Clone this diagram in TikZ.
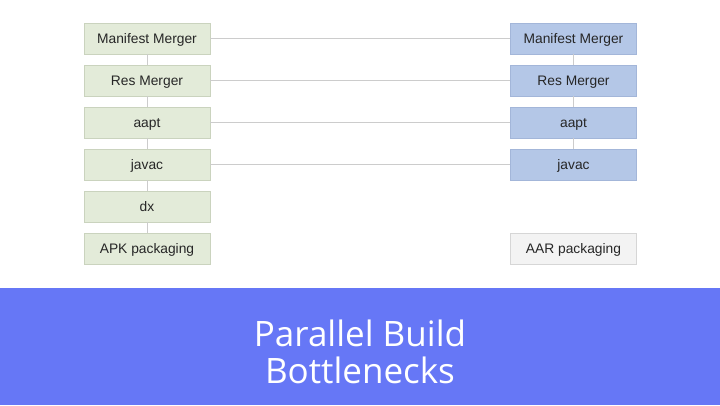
\documentclass[tikz,border=0pt]{standalone}
\usepackage{fontspec}
\setmainfont{Liberation Sans}
\newfontfamily\titlefont{Open Sans}
\definecolor{gfill}{HTML}{E3EBD9}
\definecolor{gdraw}{HTML}{CAD3BE}
\definecolor{bfill}{HTML}{B4C7E7}
\definecolor{bdraw}{HTML}{A3B6D9}
\definecolor{afill}{HTML}{F3F3F3}
\definecolor{adraw}{HTML}{D6D6D6}
\definecolor{banner}{HTML}{6677F6}
\definecolor{conn}{HTML}{CCCCCC}
\tikzset{
  box/.style={minimum width=126pt, minimum height=31pt, inner sep=0pt, text height=9.8pt, text depth=0pt, font=\fontsize{13.8}{15}\selectfont, text=black!85, line width=0.6pt},
  gbox/.style={box, fill=gfill, draw=gdraw},
  bbox/.style={box, fill=bfill, draw=bdraw},
  abox/.style={box, fill=afill, draw=adraw},
  link/.style={draw=conn, line width=0.6pt}
}
\begin{document}
\begin{tikzpicture}[x=1pt,y=-1pt]
\useasboundingbox (0,0) rectangle (720,405);
\fill[white] (0,0) rectangle (720,405);
\fill[banner] (0,288) rectangle (720,405);
\node[font=\titlefont\fontsize{35}{36.5}\selectfont, text=white, align=center] (title) at (360,352) {Parallel Build\\Bottlenecks};
% left column
\node[gbox] (l1) at (147,38.5) {Manifest Merger};
\node[gbox] (l2) at (147,80.5) {Res Merger};
\node[gbox] (l3) at (147,122.5) {aapt};
\node[gbox] (l4) at (147,164.5) {javac};
\node[gbox] (l5) at (147,206.5) {dx};
\node[gbox] (l6) at (147,248.5) {APK packaging};
% right column
\node[bbox] (r1) at (573.5,38.5) {Manifest Merger};
\node[bbox] (r2) at (573.5,80.5) {Res Merger};
\node[bbox] (r3) at (573.5,122.5) {aapt};
\node[bbox] (r4) at (573.5,164.5) {javac};
\node[abox] (r6) at (573.5,248.5) {AAR packaging};
% connectors
\draw[link] (l1) -- (l2);
\draw[link] (l2) -- (l3);
\draw[link] (l3) -- (l4);
\draw[link] (l4) -- (l5);
\draw[link] (l5) -- (l6);
\draw[link] (r1) -- (r2);
\draw[link] (r2) -- (r3);
\draw[link] (r3) -- (r4);
\draw[link] (l1) -- (r1);
\draw[link] (l2) -- (r2);
\draw[link] (l3) -- (r3);
\draw[link] (l4) -- (r4);
\end{tikzpicture}
\end{document}
